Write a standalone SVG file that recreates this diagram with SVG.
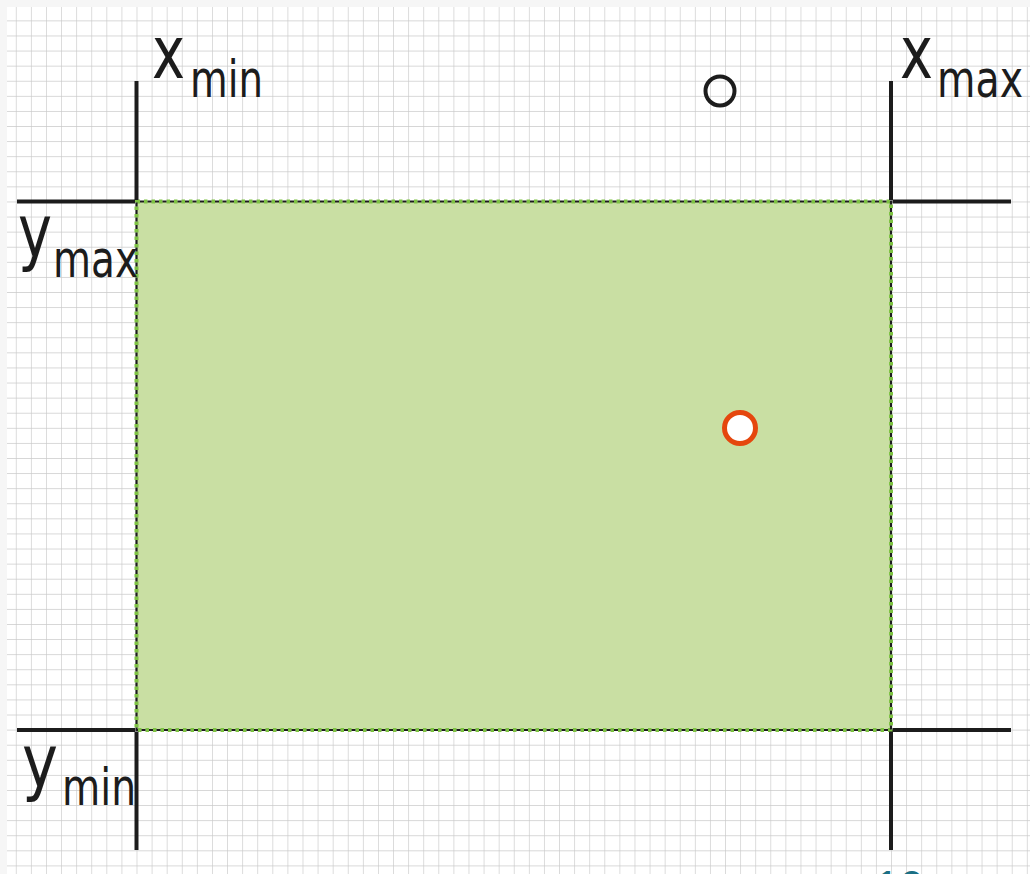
<svg xmlns="http://www.w3.org/2000/svg" width="1030" height="874" viewBox="0 0 1030 874">
  <style>
    .axis { stroke: #1c1c1c; stroke-width: 4; fill: none; }
    .lbl { font-family: "DejaVu Sans", "Liberation Sans", sans-serif; fill: #1c1c1c; }
    .big { font-size: 73px; }
    .sub { font-size: 52px; }
  </style>
  <defs>
    <pattern id="grid" patternUnits="userSpaceOnUse" x="15.8" y="20.4" width="15.09" height="15.09">
      <path d="M0 0 H15.09 M0 0 V15.09" stroke="#c9c9c9" stroke-width="1.3" fill="none"/>
    </pattern>
  </defs>
  <rect x="0" y="0" width="1030" height="874" fill="#f6f6f6"/>
  <rect x="7" y="7" width="1023" height="867" fill="#ffffff"/>
  <rect x="7" y="7" width="1023" height="867" fill="url(#grid)"/>

  <g id="region">
    <rect x="136.5" y="201.5" width="754.5" height="528.5" fill="#c9dfa3"/>
    <rect x="136.5" y="201.5" width="754.5" height="528.5" fill="none" stroke="#7dc242" stroke-width="4" stroke-dasharray="3.5 4"/>
    <rect x="136.5" y="201.5" width="754.5" height="528.5" fill="none" stroke="#1c1c1c" stroke-width="2.2" stroke-dasharray="4 3.5" stroke-dashoffset="-3.5"/>
  </g>

  <g id="connectors">
    <line class="axis" x1="136.5" y1="81" x2="136.5" y2="200"/>
    <line class="axis" x1="136.5" y1="731.5" x2="136.5" y2="850"/>
    <line class="axis" x1="891" y1="81" x2="891" y2="200"/>
    <line class="axis" x1="891" y1="731.5" x2="891" y2="850"/>
    <line class="axis" x1="17" y1="201.5" x2="135" y2="201.5"/>
    <line class="axis" x1="892.5" y1="201.5" x2="1011" y2="201.5"/>
    <line class="axis" x1="17" y1="730" x2="135" y2="730"/>
    <line class="axis" x1="892.5" y1="730" x2="1011" y2="730"/>
  </g>

  <g id="label-xmin">
    <text class="lbl big" x="152" y="78" textLength="33" lengthAdjust="spacingAndGlyphs">x</text>
    <text class="lbl sub" x="190" y="97" textLength="73" lengthAdjust="spacingAndGlyphs">min</text>
  </g>
  <g id="label-xmax">
    <text class="lbl big" x="900" y="78" textLength="33" lengthAdjust="spacingAndGlyphs">x</text>
    <text class="lbl sub" x="937" y="97" textLength="86" lengthAdjust="spacingAndGlyphs">max</text>
  </g>
  <g id="label-ymax">
    <text class="lbl big" x="18" y="257" textLength="34" lengthAdjust="spacingAndGlyphs">y</text>
    <text class="lbl sub" x="53" y="277" textLength="85" lengthAdjust="spacingAndGlyphs">max</text>
  </g>
  <g id="label-ymin">
    <text class="lbl big" x="22" y="787" textLength="36" lengthAdjust="spacingAndGlyphs">y</text>
    <text class="lbl sub" x="62" y="805" textLength="74" lengthAdjust="spacingAndGlyphs">min</text>
  </g>

  <g id="point-outside">
    <circle cx="720" cy="91" r="14.5" fill="none" stroke="#1c1c1c" stroke-width="4"/>
  </g>
  <g id="point-inside">
    <circle cx="740" cy="428" r="15.5" fill="#ffffff" stroke="#e5470e" stroke-width="5"/>
  </g>

  <g id="page-number">
    <text x="875" y="902" font-family="Liberation Sans, sans-serif" font-size="44" fill="#1b6f84">10</text>
  </g>
</svg>
